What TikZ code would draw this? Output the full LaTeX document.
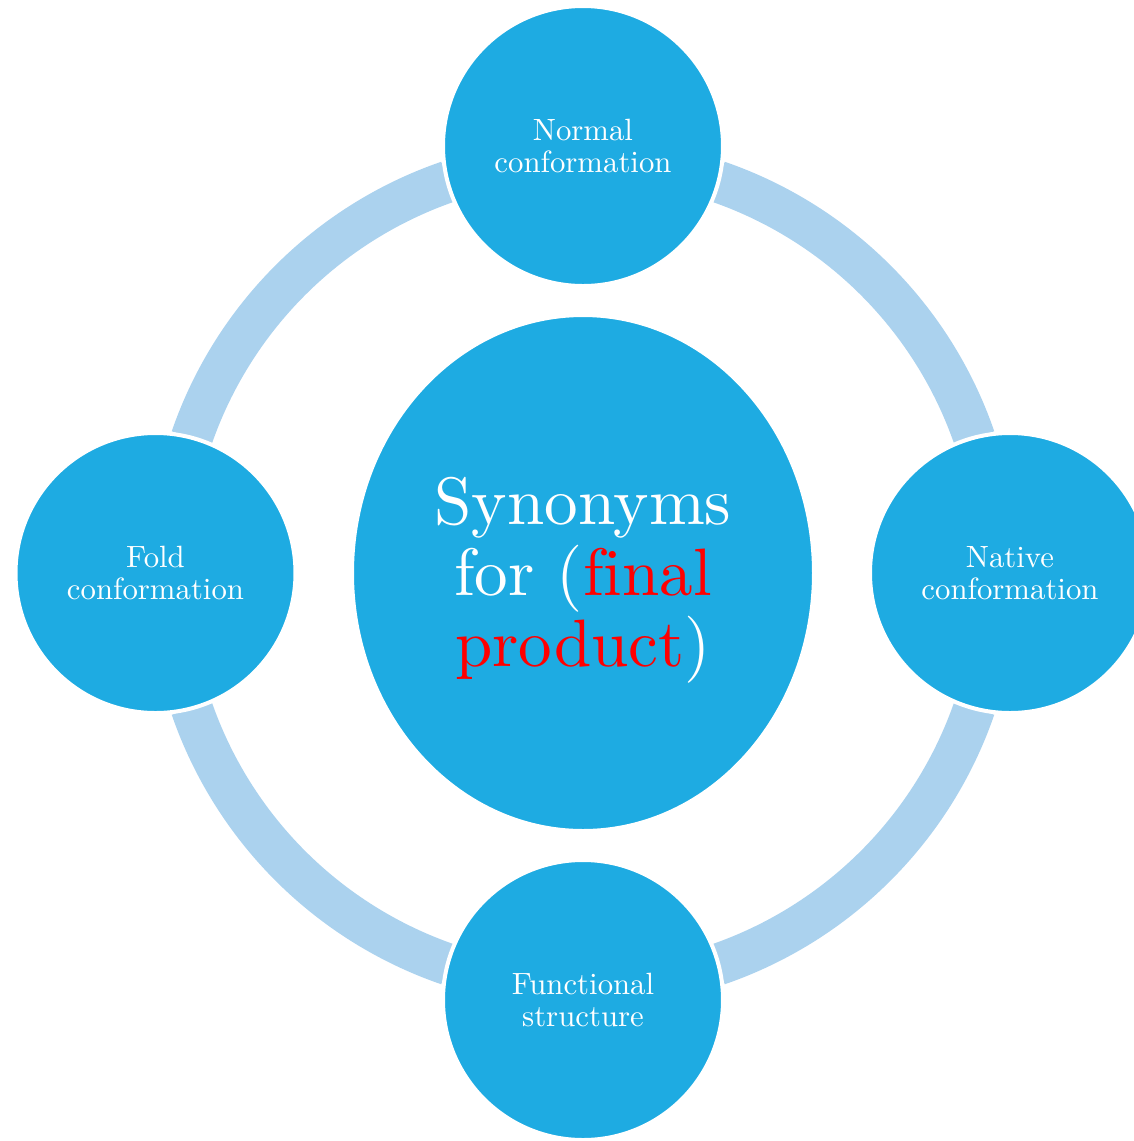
\documentclass[tikz,border=0pt]{standalone}
\usepackage{fontspec}
\usetikzlibrary{shapes.geometric}
% 10pt design size of Latin Modern, used at large sizes for the hub label
\newfontfamily\hubfont{lmroman10-regular}[Extension=.otf,Ligatures=NoCommon]
\definecolor{nodeblue}{RGB}{30,171,226}
\definecolor{ringblue}{RGB}{171,210,238}
\begin{document}
\begin{tikzpicture}[x=0.325pt,y=-0.325pt,
  ring/.style={draw=ringblue,line width=13.65pt,line cap=butt},
  satellite/.style={circle,fill=nodeblue,draw=white,line width=1.3pt,
    minimum size=91pt,inner sep=0pt,align=center,text=white,
    font=\fontsize{10}{10.3}\selectfont},
  hub/.style={ellipse,fill=nodeblue,draw=white,line width=1.3pt,
    minimum width=150.15pt,minimum height=167.7pt,inner sep=0pt,
    align=center,text=white,font=\hubfont\fontsize{21.8}{23.1}\selectfont}]
\useasboundingbox (0,0) rectangle (1134,1141);
\clip (0,0) rectangle (1134,1141);

\coordinate (ctr) at (583,573);

% connecting ring, drawn as four arcs between the satellites
\foreach \a in {19,109,199,289}
  \draw[ring] (ctr) ++(\a:414) arc[start angle=\a, delta angle=52, radius=414];

% central ellipse (the strut sets the label a little lower)
\node[hub] (hub) at (ctr) {\rule{0pt}{20pt}Synonyms\\for (\textcolor{red}{final}\\\textcolor{red}{product})};

% satellites
\node[satellite] (top)    at (583,146)  {Normal\\conformation};
\node[satellite] (right)  at (1010,573) {Native\\conformation};
\node[satellite] (bottom) at (583,1000) {Functional\\structure};
\node[satellite] (left)   at (155.5,573) {Fold\\conformation};
\end{tikzpicture}
\end{document}
